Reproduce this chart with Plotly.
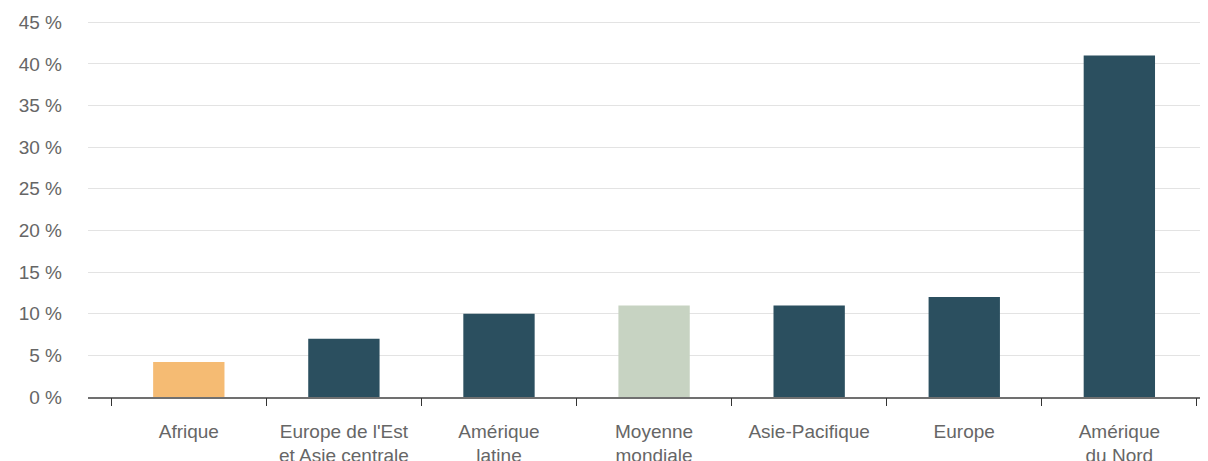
import plotly.graph_objects as go

# Part des revenus par région (%)
regions = [
    "Afrique",
    "Europe de l'Est<br>et Asie centrale",
    "Amérique<br>latine",
    "Moyenne<br>mondiale",
    "Asie-Pacifique",
    "Europe",
    "Amérique<br>du Nord",
]
values = [4.2, 7.0, 10.0, 11.0, 11.0, 12.0, 41.0]
bar_colors = ["#F5BB73", "#2B4F5F", "#2B4F5F", "#C7D3C2", "#2B4F5F", "#2B4F5F", "#2B4F5F"]
y_ticks = [0, 5, 10, 15, 20, 25, 30, 35, 40, 45]
y_labels = [f"{v} %" for v in y_ticks]

positions = list(range(len(regions)))
boundaries = [p - 0.5 for p in positions] + [positions[-1] + 0.5]

fig = go.Figure()
fig.add_trace(go.Bar(
    x=positions,
    y=values,
    marker=dict(color=bar_colors, line=dict(width=0)),
    width=0.46,
    hoverinfo="skip",
))
# invisible trace to activate the secondary x axis that carries the separator ticks
fig.add_trace(go.Scatter(x=boundaries, y=[0] * len(boundaries), xaxis="x2",
                         mode="markers", marker=dict(opacity=0), hoverinfo="skip"))

x_range = [-0.65, positions[-1] + 0.52]
fig.update_layout(
    width=1208,
    height=461,
    margin=dict(l=88, r=8, t=21, b=64),
    plot_bgcolor="white",
    paper_bgcolor="white",
    showlegend=False,
    font=dict(family="Liberation Sans, Arial, sans-serif", color="#666666", size=19),
    xaxis=dict(
        range=x_range,
        tickmode="array",
        tickvals=positions,
        ticktext=regions,
        ticks="",
        showgrid=False,
        zeroline=False,
        showline=True,
        linecolor="#707070",
        linewidth=1.5,
        automargin=False,
        ticklabelstandoff=16,
        tickfont=dict(size=19, color="#666666"),
    ),
    xaxis2=dict(
        overlaying="x",
        side="bottom",
        range=x_range,
        tickmode="array",
        tickvals=boundaries,
        ticktext=[""] * len(boundaries),
        ticks="outside",
        ticklen=8,
        tickwidth=1,
        tickcolor="#333333",
        showgrid=False,
        zeroline=False,
        showline=False,
        automargin=False,
        anchor="y",
    ),
    yaxis=dict(
        range=[0, 45.15],
        tickmode="array",
        tickvals=y_ticks,
        ticktext=y_labels,
        showgrid=True,
        gridcolor="#E3E3E3",
        gridwidth=1,
        zeroline=False,
        ticks="",
        automargin=False,
        ticklabelstandoff=25,
        tickfont=dict(size=19, color="#666666"),
    ),
)

fig.write_html("out.html")
